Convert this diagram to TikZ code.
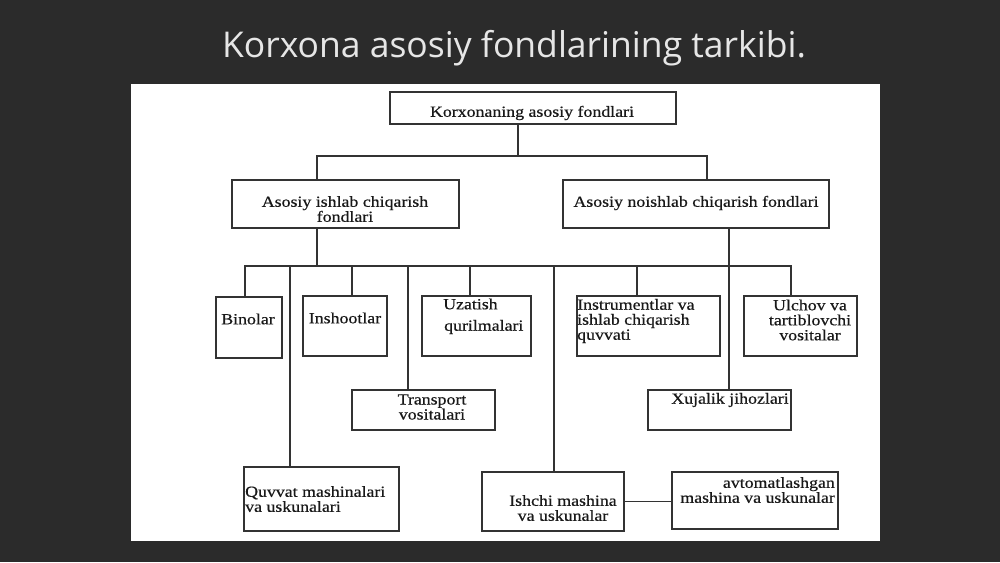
\documentclass[tikz,border=0pt]{standalone}
\usepackage{fontspec}
\setmainfont{Liberation Serif}[FakeStretch=1.15,FakeBold=0.5]
\newfontfamily\titlefont{Open Sans}
\definecolor{bgdark}{HTML}{2B2B2B}
\definecolor{linec}{HTML}{333333}
\definecolor{titlec}{HTML}{E6E6E6}
\tikzset{
  box/.style={draw=linec, line width=1.2pt, fill=white, inner sep=0pt},
  txt/.style={font=\fontsize{15.5}{15}\selectfont, text=black!90, inner sep=0pt},
  conn/.style={draw=linec, line width=1.2pt},
}
\begin{document}
\begin{tikzpicture}[x=1pt,y=-1pt]
\useasboundingbox (0,0) rectangle (1000,562);
\fill[bgdark] (0,0) rectangle (1000,562);
\node[font=\titlefont\fontsize{35.5}{38}\selectfont, text=titlec] (title) at (514,48) {Korxona asosiy fondlarining tarkibi.};
\fill[white] (131,84) rectangle (880,541);

% boxes
\node[box, minimum width=286, minimum height=32] (top) at (533,108) {};
\node[box, minimum width=227, minimum height=48] (L1) at (345.5,204) {};
\node[box, minimum width=266, minimum height=48] (R1) at (696,204) {};
\node[box, minimum width=66, minimum height=61] (bin) at (249,327.5) {};
\node[box, minimum width=84, minimum height=60] (insh) at (345,326) {};
\node[box, minimum width=109, minimum height=60] (uza) at (476.5,326) {};
\node[box, minimum width=143, minimum height=40] (tra) at (423.5,410) {};
\node[box, minimum width=143, minimum height=60] (ins) at (648.5,326) {};
\node[box, minimum width=113, minimum height=60] (ulc) at (800.5,326) {};
\node[box, minimum width=143, minimum height=40] (xuj) at (719.5,410) {};
\node[box, minimum width=155, minimum height=64] (quv) at (321.5,499) {};
\node[box, minimum width=142, minimum height=59] (ish) at (553,501.5) {};
\node[box, minimum width=166, minimum height=57] (avt) at (755,500.5) {};

% texts
\node[txt] (top-t) at (532,113) {Korxonaning asosiy fondlari};
\node[txt, align=center] (L1-t) at (345,209) {Asosiy ishlab chiqarish\\fondlari};
\node[txt] (R1-t) at (696,203) {Asosiy noishlab chiqarish fondlari};
\node[txt] (bin-t) at (248,319) {Binolar};
\node[txt] (insh-t) at (345,318) {Inshootlar};
\node[txt, anchor=west] (uza-t1) at (443,304) {Uzatish};
\node[txt, anchor=west] (uza-t2) at (444,327) {qurilmalari};
\node[txt, align=center] (tra-t) at (432,407) {Transport\\vositalari};
\node[txt, align=left, anchor=west] (ins-t) at (577,321) {Instrumentlar va\\ishlab chiqarish\\quvvati};
\node[txt, align=center] (ulc-t) at (810,320) {Ulchov va\\tartiblovchi\\vositalar};
\node[txt] (xuj-t) at (730,400) {Xujalik jihozlari};
\node[txt, align=left, anchor=west] (quv-t) at (245,499) {Quvvat mashinalari\\va uskunalari};
\node[txt, align=center] (ish-t) at (563,508) {Ishchi mashina\\va uskunalar};
\node[txt, align=right, anchor=east] (avt-t) at (835,490) {avtomatlashgan\\mashina va uskunalar};

% junction coordinates
\coordinate (j1) at (518,156);
\coordinate (hL) at (317,156);
\coordinate (hR) at (707,156);
\coordinate (c1) at (317,266);
\coordinate (d1) at (245,266);
\coordinate (d2) at (290,266);
\coordinate (d3) at (352,266);
\coordinate (d4) at (408,266);
\coordinate (d5) at (470,266);
\coordinate (d6) at (554,266);
\coordinate (d7) at (637,266);
\coordinate (d8) at (729,266);
\coordinate (d9) at (791,266);

% connectors
\draw[conn] (top.south -| j1) -- (j1);
\draw[conn] (L1.north -| hL) -- (hL) -- (hR) -- (R1.north -| hR);
\draw[conn] (L1.south -| c1) -- (c1);
\draw[conn] (bin.north -| d1) -- (d1) -- (d9) -- (ulc.north -| d9);
\draw[conn] (d2) -- (quv.north -| d2);
\draw[conn] (d3) -- (insh.north -| d3);
\draw[conn] (d4) -- (tra.north -| d4);
\draw[conn] (d5) -- (uza.north -| d5);
\draw[conn] (d6) -- (ish.north -| d6);
\draw[conn] (d7) -- (ins.north -| d7);
\draw[conn] (R1.south -| d8) -- (xuj.north -| d8);
\draw[conn] (ish.east) -- (ish.east -| avt.west);
\end{tikzpicture}
\end{document}
